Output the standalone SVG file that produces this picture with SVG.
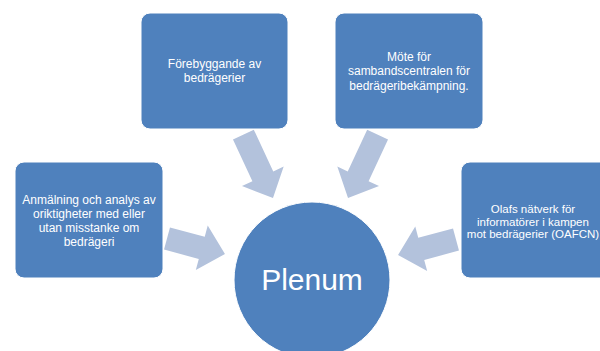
<svg xmlns="http://www.w3.org/2000/svg" width="600" height="351" viewBox="0 0 600 351">
<style>
.box{fill:#4f81bd;stroke:#ffffff;stroke-width:1}
.arr{fill:#b3c2dc}
.t{font-family:"Liberation Sans",Arial,sans-serif;font-size:12px;fill:#ffffff;text-anchor:middle}
.ts{font-size:11.5px}
.big{font-family:"Liberation Sans",Arial,sans-serif;font-size:30px;fill:#ffffff;text-anchor:middle}
</style>
<defs>
<path id="arrS" d="M0,-11.5 L36,-11.5 L36,-23 L60,0 L36,23 L36,11.5 L0,11.5 Z"/>
<path id="arrL" d="M0,-11.5 L46,-11.5 L46,-23 L70,0 L46,23 L46,11.5 L0,11.5 Z"/>
</defs>
<rect width="600" height="351" fill="#ffffff"/>
<g id="connectors">
<use href="#arrS" class="arr" transform="translate(167,238.5) rotate(15)"/>
<use href="#arrL" class="arr" transform="translate(243.4,134.6) rotate(65)"/>
<use href="#arrL" class="arr" transform="translate(377.6,134.6) rotate(115)"/>
<use href="#arrS" class="arr" transform="translate(456,239.5) rotate(165)"/>
</g>
<g id="plenum">
<circle cx="312" cy="280" r="78" class="box"/>
<text x="312" y="290" class="big">Plenum</text>
</g>
<g id="node-left">
<rect x="15" y="162" width="148" height="116" rx="9" class="box"/>
<text class="t"><tspan x="89" y="204">Anmälning och analys av</tspan><tspan x="89" y="218">oriktigheter med eller</tspan><tspan x="89" y="232.3">utan misstanke om</tspan><tspan x="89" y="246.3">bedrägeri</tspan></text>
</g>
<g id="node-top-left">
<rect x="141" y="13" width="147" height="116" rx="9" class="box"/>
<text class="t"><tspan x="214.5" y="67.5">Förebyggande av</tspan><tspan x="214.5" y="82">bedrägerier</tspan></text>
</g>
<g id="node-top-right">
<rect x="335" y="13" width="148" height="116" rx="9" class="box"/>
<text class="t"><tspan x="409" y="60.5">Möte för</tspan><tspan x="409" y="75">sambandscentralen för</tspan><tspan x="409" y="89.5">bedrägeribekämpning.</tspan></text>
</g>
<g id="node-right">
<rect x="461" y="162" width="148" height="116" rx="9" class="box"/>
<text class="t ts"><tspan x="533" y="213">Olafs nätverk för</tspan><tspan x="533" y="225.5">informatörer i kampen</tspan><tspan x="533" y="238">mot bedrägerier (OAFCN)</tspan></text>
</g>
</svg>
